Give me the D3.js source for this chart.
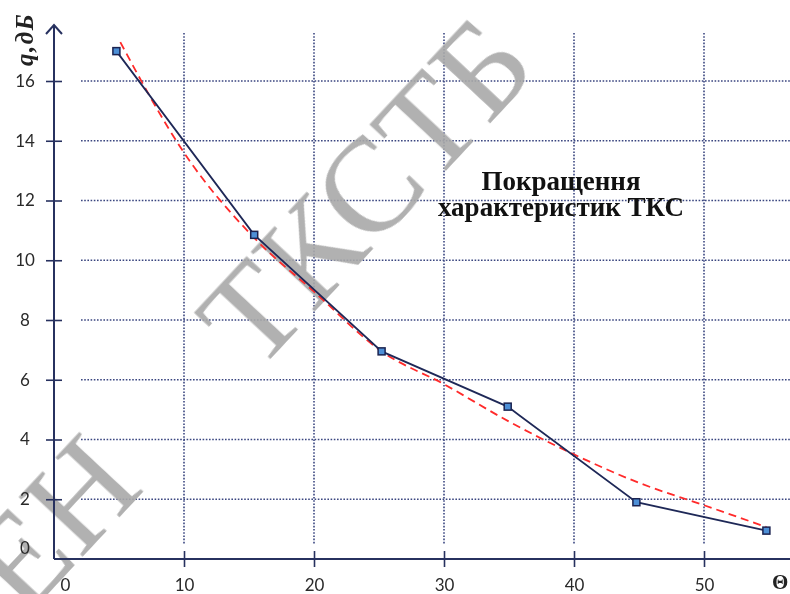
<!DOCTYPE html>
<meta charset="utf-8">
<style>
  body { margin: 0; background: #fff; }
  svg { display: block; }
</style>
<svg width="790" height="594"></svg>
<script src="https://d3js.org/d3.v7.min.js"></script>
<script>
// measured points
var thetaVals = [4.8, 15.4, 25.2, 34.9, 44.8, 54.8];
var qVals = [17.0, 10.85, 6.95, 5.1, 1.9, 0.95];
// red dashed trend
var trendTheta = [5.1, 10, 15.4, 20, 25.2, 30, 35, 40, 45, 50, 54.8];
var trendQ = [17.3, 13.6, 10.75, 8.95, 6.95, 5.85, 4.6, 3.5, 2.55, 1.8, 1.07];
var xTicks = [0, 10, 20, 30, 40, 50];
var yTicks = [0, 2, 4, 6, 8, 10, 12, 14, 16];

var svg = d3.select("svg");
var navy = "#27315f";

var x = d3.scaleLinear().domain([0, 50]).range([54, 704]);
var y = d3.scaleLinear().domain([0, 16]).range([559, 81]);

// grid
var grid = svg.append("g")
    .attr("stroke", "#3b4680")
    .attr("stroke-width", 1.6)
    .attr("stroke-dasharray", "1.6,1.6");
grid.selectAll(".hg")
  .data(yTicks.filter(function(d) { return d > 0; }))
  .enter().append("line")
    .attr("x1", 81).attr("x2", 790)
    .attr("y1", function(d) { return y(d); })
    .attr("y2", function(d) { return y(d); });
grid.selectAll(".vg")
  .data(xTicks.filter(function(d) { return d > 0; }))
  .enter().append("line")
    .attr("y1", 33).attr("y2", 545)
    .attr("x1", function(d) { return x(d); })
    .attr("x2", function(d) { return x(d); });

// watermark (under the marks)
var wm = svg.append("g")
    .attr("fill", "#a9a9a9")
    .attr("opacity", 0.9)
    .style("font-family", "Liberation Serif")
    .style("font-size", "134px");
wm.append("text")
    .attr("transform", "translate(366,192) rotate(-47)")
    .attr("text-anchor", "middle")
    .attr("dy", "0.33em")
    .text("ТКСТБ");
wm.append("text")
    .attr("transform", "translate(53,524) rotate(-47)")
    .attr("text-anchor", "middle")
    .attr("dy", "0.33em")
    .text("ЕН");

// axes
var xAxis = svg.append("g")
    .attr("transform", "translate(0," + y(0) + ")")
    .call(d3.axisBottom(x).tickValues(xTicks).tickSize(8).tickPadding(12));
xAxis.select(".domain").remove();
xAxis.selectAll(".tick line").attr("y1", -8).attr("stroke", navy).attr("stroke-width", 1.6);
xAxis.selectAll(".tick").filter(function(d) { return d === 0; })
    .select("line").remove();
xAxis.selectAll(".tick").filter(function(d) { return d === 0; })
    .select("text").attr("x", 11);

var yAxis = svg.append("g")
    .attr("transform", "translate(" + x(0) + ",0)")
    .call(d3.axisLeft(y).tickValues(yTicks).tickSize(8).tickPadding(0));
yAxis.select(".domain").remove();
yAxis.selectAll(".tick line").attr("x1", 8).attr("stroke", navy).attr("stroke-width", 1.6);
yAxis.selectAll(".tick text").attr("x", -29).attr("text-anchor", "middle");
yAxis.selectAll(".tick").filter(function(d) { return d === 0; })
    .select("line").remove();
yAxis.selectAll(".tick").filter(function(d) { return d === 0; })
    .select("text").attr("y", -11);

svg.selectAll(".tick text")
    .attr("fill", "#2a2a2a")
    .style("font-family", "Lato")
    .style("font-size", "17px");

// axis lines with arrow
svg.append("line").attr("x1", x(0)).attr("x2", 790).attr("y1", y(0)).attr("y2", y(0))
    .attr("stroke", navy).attr("stroke-width", 2);
svg.append("line").attr("x1", x(0)).attr("x2", x(0)).attr("y1", y(0)).attr("y2", 25)
    .attr("stroke", navy).attr("stroke-width", 2);
svg.append("path")
    .attr("d", "M" + (x(0) - 8) + ",34L" + x(0) + ",25L" + (x(0) + 8) + ",34")
    .attr("fill", "none").attr("stroke", navy).attr("stroke-width", 2);

// trend
var trend = d3.line()
    .x(function(d, i) { return x(trendTheta[i]); })
    .y(function(d) { return y(d); })
    .curve(d3.curveMonotoneX);
svg.append("path")
    .attr("d", trend(trendQ))
    .attr("fill", "none")
    .attr("stroke", "#ff2a2a")
    .attr("stroke-width", 1.8)
    .attr("stroke-dasharray", "8,5");

// measured line
var line = d3.line()
    .x(function(d, i) { return x(thetaVals[i]); })
    .y(function(d) { return y(d); });
svg.append("path")
    .attr("d", line(qVals))
    .attr("fill", "none")
    .attr("stroke", "#1e2857")
    .attr("stroke-width", 1.8);

svg.selectAll(".pt")
  .data(qVals)
  .enter().append("rect")
    .attr("x", function(d, i) { return x(thetaVals[i]) - 3.5; })
    .attr("y", function(d) { return y(d) - 3.5; })
    .attr("width", 7).attr("height", 7)
    .attr("fill", "#4d8fd6")
    .attr("stroke", "#1b2350")
    .attr("stroke-width", 1.5);

// titles
svg.append("text")
    .attr("transform", "translate(33,66) rotate(-90)")
    .style("font-family", "Liberation Serif")
    .style("font-style", "italic")
    .style("font-weight", "bold")
    .style("font-size", "25px")
    .style("letter-spacing", "1.5px")
    .attr("fill", "#222")
    .text("q,дБ");

svg.append("text")
    .attr("x", 772).attr("y", 589)
    .style("font-family", "Liberation Serif")
    .style("font-weight", "bold")
    .style("font-size", "21px")
    .attr("fill", "#222")
    .text("Θ");

var note = svg.append("text")
    .attr("text-anchor", "middle")
    .style("font-family", "Liberation Serif")
    .style("font-weight", "bold")
    .style("font-size", "27px")
    .attr("fill", "#111");
note.append("tspan").attr("x", 561).attr("y", 190).text("Покращення");
note.append("tspan").attr("x", 561).attr("y", 216).text("характеристик ТКС");
</script>
